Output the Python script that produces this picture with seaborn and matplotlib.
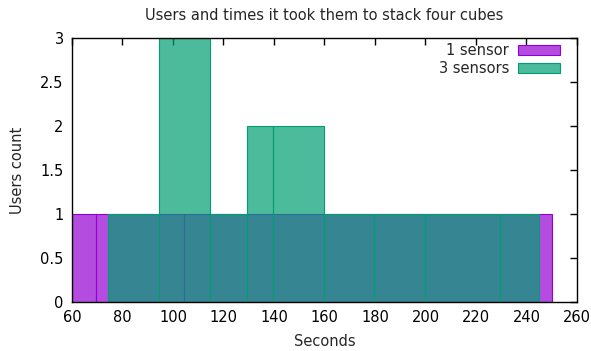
import matplotlib
matplotlib.use("Agg")
import matplotlib.pyplot as plt
from matplotlib.patches import Patch
from matplotlib.colors import to_rgba
import numpy as np
import pandas as pd
import seaborn as sns

# Box boundaries (seconds) and number of users in each box
one_sensor_edges = [60.0, 69.6, 104.5, 250.0]
one_sensor_counts = [1, 1, 1]

three_sensor_edges = [74.4, 94.6, 114.7, 129.5, 139.6, 159.7, 179.7, 199.7, 229.6, 245.0]
three_sensor_counts = [1, 3, 1, 2, 2, 1, 1, 1, 1]

series_names = ["1 sensor", "3 sensors"]
x_ticks = [60, 80, 100, 120, 140, 160, 180, 200, 220, 240, 260]
y_ticks = [0, 0.5, 1, 1.5, 2, 2.5, 3]
y_tick_labels = ["0", "0.5", "1", "1.5", "2", "2.5", "3"]

sns.set_theme(style="white")
plt.rcParams["font.family"] = ["DejaVu Sans"]

fig = plt.figure(figsize=(5.91, 3.51), dpi=100)
ax = fig.add_axes([0.1218, 0.1396, 0.8545, 0.7521])

colors = ["#9400d3", "#009e73"]
fill_alpha = 0.7
fs = 10.5


def draw_boxes(edges, counts, color):
    e = np.asarray(edges)
    df = pd.DataFrame({"seconds": (e[:-1] + e[1:]) / 2, "users": counts})
    n_before = len(ax.patches)
    sns.histplot(data=df, x="seconds", weights="users", bins=list(edges), ax=ax,
                 element="bars", fill=True, stat="count")
    for p in ax.patches[n_before:]:
        p.set_alpha(None)
        p.set_facecolor(to_rgba(color, fill_alpha))
        p.set_edgecolor(color)
        p.set_linewidth(0.8)


draw_boxes(one_sensor_edges, one_sensor_counts, colors[0])
draw_boxes(three_sensor_edges, three_sensor_counts, colors[1])

ax.set_xlim(60, 260)
ax.set_ylim(0, 3)
ax.set_xticks(x_ticks)
ax.set_xticklabels([str(t) for t in x_ticks])
ax.set_yticks(y_ticks)
ax.set_yticklabels(y_tick_labels)
ax.tick_params(direction="in", length=5, width=1, color="black",
               top=True, right=True, labelsize=fs, labelcolor="black", pad=6)
for s in ax.spines.values():
    s.set_color("black")
    s.set_linewidth(1.0)
    s.set_visible(True)

ax.set_title("Users and times it took them to stack four cubes", fontsize=fs, pad=13)
ax.set_xlabel("Seconds", fontsize=fs, labelpad=6)
ax.set_ylabel("Users count", fontsize=fs, labelpad=11)

handles = [Patch(facecolor=to_rgba(c, fill_alpha), edgecolor=c, linewidth=0.8)
           for c in colors]
ax.legend(handles, series_names, loc="upper right", frameon=False,
          markerfirst=False, fontsize=fs, handlelength=2.9, handleheight=0.75,
          labelspacing=0.2, borderaxespad=0, borderpad=0, handletextpad=0.6,
          bbox_to_anchor=(1 - 17 / 505, 1 - 5 / 264))

fig.savefig("out.png", dpi=100)
